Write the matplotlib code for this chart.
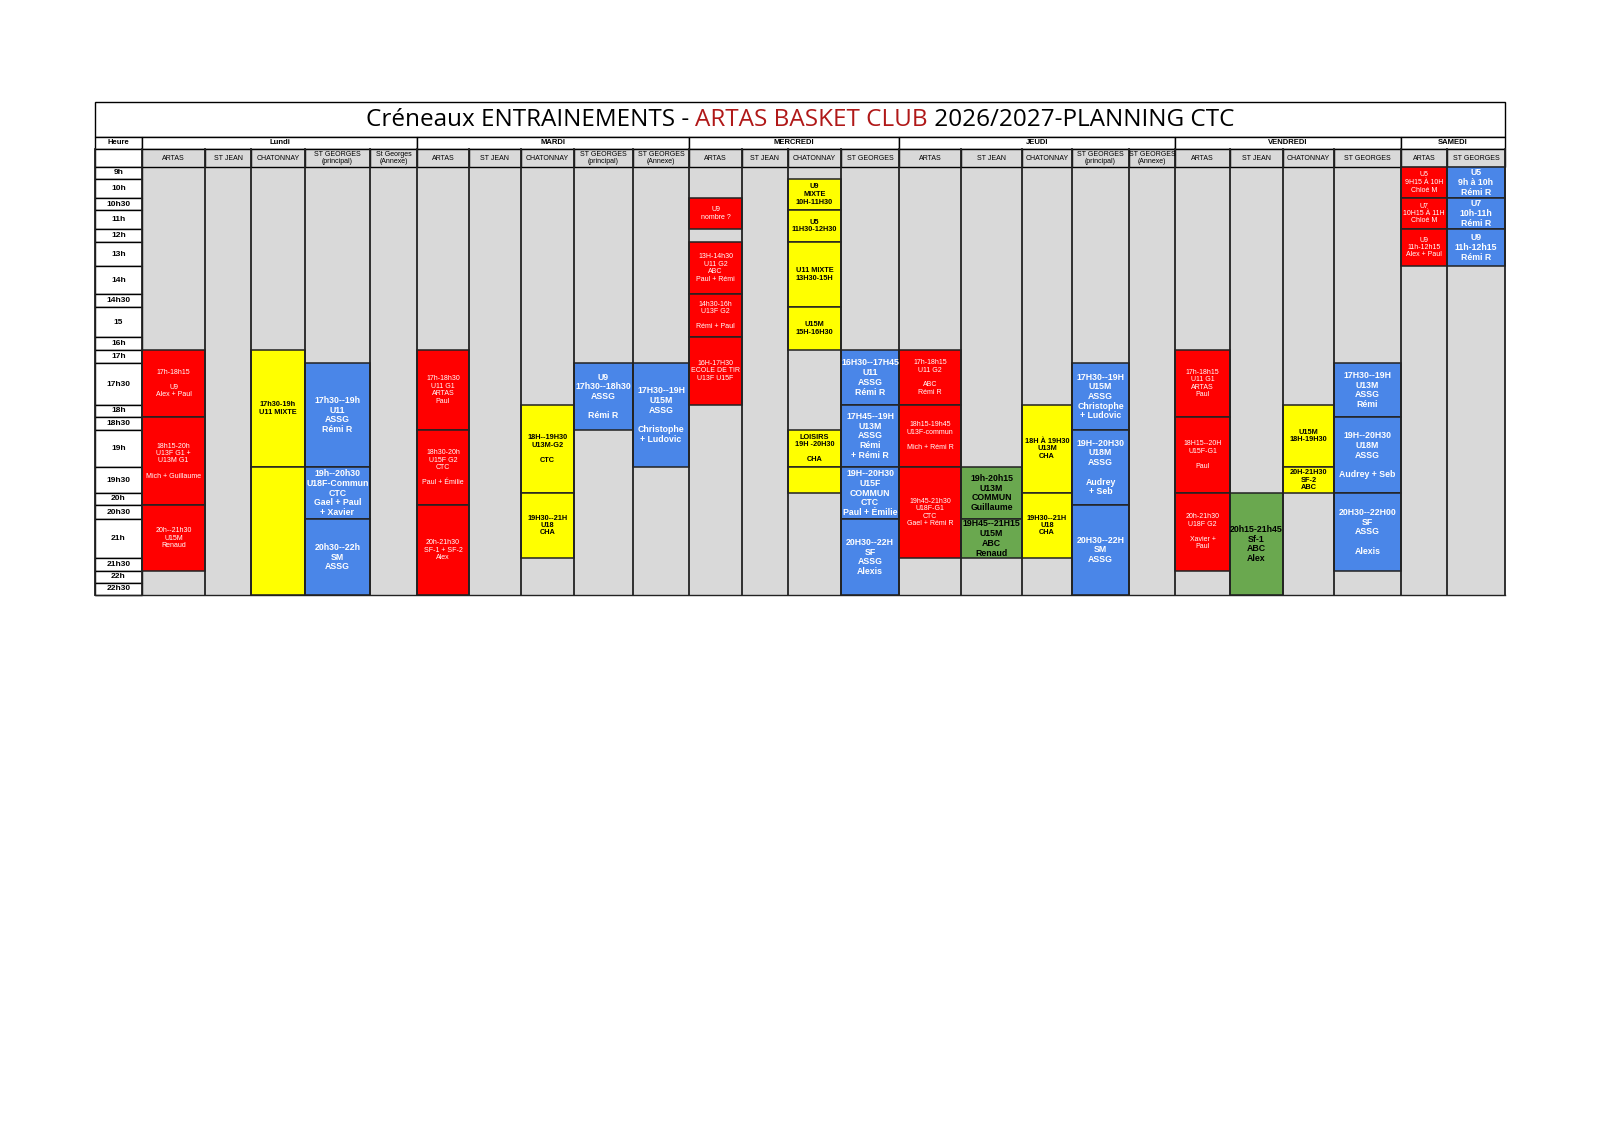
import matplotlib
matplotlib.use("Agg")
import matplotlib.pyplot as plt
from matplotlib.patches import Rectangle

# ---------------- data ----------------
days = ["Lundi", "MARDI", "MERCREDI", "JEUDI", "VENDREDI", "SAMEDI"]
day_ncols = [5, 5, 4, 5, 4, 2]
venues = ["ARTAS", "ST JEAN", "CHATONNAY", "ST GEORGES\n(principal)", "St Georges\n(Annexe)",
          "ARTAS", "ST JEAN", "CHATONNAY", "ST GEORGES\n(principal)", "ST GEORGES\n(Annexe)",
          "ARTAS", "ST JEAN", "CHATONNAY", "ST GEORGES",
          "ARTAS", "ST JEAN", "CHATONNAY", "ST GEORGES\n(principal)", "ST GEORGES\n(Annexe)",
          "ARTAS", "ST JEAN", "CHATONNAY", "ST GEORGES",
          "ARTAS", "ST GEORGES"]
hours = ["9h", "10h", "10h30", "11h", "12h", "13h", "14h", "14h30", "15", "16h", "17h", "17h30",
         "18h", "18h30", "19h", "19h30", "20h", "20h30", "21h", "21h30", "22h", "22h30"]

# (column, start row, end row, club, text)
blocks = [
    (0, "17h", "18h30", "ARTAS", "17h-18h15\n\nU9\nAlex + Paul"),
    (0, "18h30", "20h30", "ARTAS", "18h15-20h\nU13F G1 +\nU13M G1\n\nMich + Guillaume"),
    (0, "20h30", "22h", "ARTAS", "20h--21h30\nU15M\nRenaud"),
    (2, "17h", "19h30", "CHA", "17h30-19h\nU11 MIXTE"),
    (2, "19h30", "end", "CHA", ""),
    (3, "17h30", "19h30", "ASSG", "17h30--19h\nU11\nASSG\nRémi R"),
    (3, "19h30", "21h", "ASSG", "19h--20h30\nU18F-Commun\nCTC\nGael + Paul\n+ Xavier"),
    (3, "21h", "end", "ASSG", "20h30--22h\nSM\nASSG"),
    (5, "17h", "19h", "ARTAS", "17h-18h30\nU11 G1\nARTAS\nPaul"),
    (5, "19h", "20h30", "ARTAS", "18h30-20h\nU15F G2\nCTC\n\nPaul + Émilie"),
    (5, "20h30", "end", "ARTAS", "20h-21h30\nSF-1 + SF-2\nAlex"),
    (7, "18h", "20h", "CHA", "18H--19H30\nU13M-G2\n\nCTC"),
    (7, "20h", "21h30", "CHA", "19H30--21H\nU18\nCHA"),
    (8, "17h30", "19h", "ASSG", "U9\n17h30--18h30\nASSG\n\nRémi R"),
    (9, "17h30", "19h30", "ASSG", "17H30--19H\nU15M\nASSG\n\nChristophe\n+ Ludovic"),
    (10, "10h30", "12h", "ARTAS", "U9\nnombre ?"),
    (10, "13h", "14h30", "ARTAS", "13H-14h30\nU11 G2\nABC\nPaul + Rémi"),
    (10, "14h30", "16h", "ARTAS", "14h30-16h\nU13F G2\n\nRémi + Paul"),
    (10, "16h", "18h", "ARTAS", "16H-17H30\nECOLE DE TIR\nU13F U15F"),
    (12, "10h", "11h", "CHA", "U9\nMIXTE\n10H-11H30"),
    (12, "11h", "13h", "CHA", "U5\n11H30-12H30"),
    (12, "13h", "15", "CHA", "U11 MIXTE\n13H30-15H"),
    (12, "15", "17h", "CHA", "U15M\n15H-16H30"),
    (12, "19h", "19h30", "CHA", "LOISIRS\n19H -20H30\n\nCHA"),
    (12, "19h30", "20h", "CHA", ""),
    (13, "17h", "18h", "ASSG", "16H30--17H45\nU11\nASSG\nRémi R"),
    (13, "18h", "19h30", "ASSG", "17H45--19H\nU13M\nASSG\nRémi\n+ Rémi R"),
    (13, "19h30", "21h", "ASSG", "19H--20H30\nU15F\nCOMMUN\nCTC\nPaul + Émilie"),
    (13, "21h", "end", "ASSG", "20H30--22H\nSF\nASSG\nAlexis"),
    (14, "17h", "18h", "ARTAS", "17h-18h15\nU11 G2\n\nABC\nRémi R"),
    (14, "18h", "19h30", "ARTAS", "18h15-19h45\nU13F-commun\n\nMich + Rémi R"),
    (14, "19h30", "21h30", "ARTAS", "19h45-21h30\nU18F-G1\nCTC\nGael + Rémi R"),
    (15, "19h30", "21h", "ABC", "19h-20h15\nU13M\nCOMMUN\nGuillaume"),
    (15, "21h", "21h30", "ABC", "19H45--21H15\nU15M\nABC\nRenaud"),
    (16, "18h", "20h", "CHA", "18H À 19H30\nU13M\nCHA"),
    (16, "20h", "21h30", "CHA", "19H30--21H\nU18\nCHA"),
    (17, "17h30", "19h", "ASSG", "17H30--19H\nU15M\nASSG\nChristophe\n+ Ludovic"),
    (17, "19h", "20h30", "ASSG", "19H--20H30\nU18M\nASSG\n\nAudrey\n+ Seb"),
    (17, "20h30", "end", "ASSG", "20H30--22H\nSM\nASSG"),
    (19, "17h", "18h30", "ARTAS", "17h-18h15\nU11 G1\nARTAS\nPaul"),
    (19, "18h30", "20h", "ARTAS", "18H15--20H\nU15F-G1\n\nPaul"),
    (19, "20h", "22h", "ARTAS", "20h-21h30\nU18F G2\n\nXavier +\nPaul"),
    (20, "20h", "end", "ABC", "20h15-21h45\nSf-1\nABC\nAlex"),
    (21, "18h", "19h30", "CHA", "U15M\n18H-19H30"),
    (21, "19h30", "20h", "CHA", "20H-21H30\nSF-2\nABC"),
    (22, "17h30", "18h30", "ASSG", "17H30--19H\nU13M\nASSG\nRémi"),
    (22, "18h30", "20h", "ASSG", "19H--20H30\nU18M\nASSG\n\nAudrey + Seb"),
    (22, "20h", "22h", "ASSG", "20H30--22H00\nSF\nASSG\n\nAlexis"),
    (23, "9h", "10h30", "ARTAS", "U5\n9H15 À 10H\nChloé M"),
    (23, "10h30", "12h", "ARTAS", "U7\n10H15 À 11H\nChloé M"),
    (23, "12h", "14h", "ARTAS", "U9\n11h-12h15\nAlex + Paul"),
    (24, "9h", "10h30", "ASSG", "U5\n9h à 10h\nRémi R"),
    (24, "10h30", "12h", "ASSG", "U7\n10h-11h\nRémi R"),
    (24, "12h", "14h", "ASSG", "U9\n11h-12h15\nRémi R"),
]

# ---------------- layout ----------------
row_y = [167, 179, 198, 210, 229, 242, 266, 294, 307, 337, 350, 363, 405, 417, 430, 467,
         493, 505, 519, 558, 571, 583, 595]
ypos = {h: row_y[i] for i, h in enumerate(hours)}
ypos["end"] = row_y[-1]
xb = [95, 142, 205, 251, 305, 370, 417, 469, 521, 574, 633, 689, 742, 788, 841, 899,
      961, 1022, 1072, 1129, 1175, 1230, 1283, 1334, 1401, 1447, 1505]
T0, T1, D1, V1 = 102, 137, 149, 167
style = {
    "ARTAS": dict(fc="#ff0000", tc="white", fw="normal", fs=5.0),
    "CHA": dict(fc="#ffff00", tc="black", fw="bold", fs=5.3),
    "ASSG": dict(fc="#4a86e8", tc="white", fw="bold", fs=6.3),
    "ABC": dict(fc="#6aa84f", tc="black", fw="bold", fs=6.3),
}
GREY = "#d9d9d9"

plt.rcParams["font.family"] = ["Liberation Sans", "DejaVu Sans"]
fig = plt.figure(figsize=(16, 11.3), dpi=100)
ax = fig.add_axes([0, 0, 1, 1])
ax.set_xlim(0, 1600)
ax.set_ylim(1130, 0)
ax.axis("off")

# title row
ax.add_patch(Rectangle((xb[0], T0), xb[-1] - xb[0], T1 - T0, fc="white", ec="black", lw=1))
cx = (xb[0] + xb[-1]) / 2
parts = [("Créneaux ENTRAINEMENTS - ", "black"), ("ARTAS BASKET CLUB", "#b01818"),
         (" 2026/2027-PLANNING CTC", "black")]
tfont = dict(fontsize=17.5, family=["Open Sans", "DejaVu Sans"], va="center")
fig.canvas.draw()
r = fig.canvas.get_renderer()
tx = [ax.text(0, 0, p, color=c, **tfont) for p, c in parts]
ws = [t.get_window_extent(r).width for t in tx]
x0 = cx - sum(ws) / 2
for t, w in zip(tx, ws):
    t.set_position((x0, (T0 + T1) / 2 + 1))
    x0 += w

# grey background of venue columns
ax.add_patch(Rectangle((xb[1], V1), xb[-1] - xb[1], row_y[-1] - V1, fc=GREY, ec="none"))
# day header
ax.add_patch(Rectangle((xb[0], T1), xb[1] - xb[0], D1 - T1, fc="white", ec="black", lw=1))
ax.text((xb[0] + xb[1]) / 2, (T1 + D1) / 2, "Heure", fontsize=5.5, fontweight="bold", ha="center", va="center")
ci = 1
for d, n in zip(days, day_ncols):
    ax.add_patch(Rectangle((xb[ci], T1), xb[ci + n] - xb[ci], D1 - T1, fc="white", ec="black", lw=1))
    ax.text((xb[ci] + xb[ci + n]) / 2, (T1 + D1) / 2, d, fontsize=5.5, fontweight="bold",
            ha="center", va="center")
    ci += n
# venue header
ax.add_patch(Rectangle((xb[0], D1), xb[1] - xb[0], V1 - D1, fc="white", ec="black", lw=1))
for i, v in enumerate(venues):
    ax.add_patch(Rectangle((xb[i + 1], D1), xb[i + 2] - xb[i + 1], V1 - D1, fc=GREY, ec="black", lw=1))
    ax.text((xb[i + 1] + xb[i + 2]) / 2, (D1 + V1) / 2, v, fontsize=5, ha="center", va="center",
            linespacing=0.85)
# hour column
for i, h in enumerate(hours):
    ax.add_patch(Rectangle((xb[0], row_y[i]), xb[1] - xb[0], row_y[i + 1] - row_y[i], fc="white",
                           ec="black", lw=1))
    ax.text((xb[0] + xb[1]) / 2, (row_y[i] + row_y[i + 1]) / 2, h, fontsize=6, fontweight="bold",
            ha="center", va="center")
# blocks
for col, s, e, club, txt in blocks:
    st = style[club]
    x, y0, y1 = xb[col + 1], ypos[s], ypos[e]
    ax.add_patch(Rectangle((x, y0), xb[col + 2] - x, y1 - y0, fc=st["fc"], ec="#222222", lw=1.1))
    ax.text(x + (xb[col + 2] - x) / 2, (y0 + y1) / 2, txt, color=st["tc"], fontsize=st["fs"],
            fontweight=st["fw"], ha="center", va="center", linespacing=1.1)
# column separators
for x in xb:
    ax.plot([x, x], [D1, row_y[-1]], color="#222222", lw=1.3)
ax.plot([xb[0], xb[-1]], [row_y[-1], row_y[-1]], color="#222222", lw=1)

fig.savefig("out.png", dpi=100)
